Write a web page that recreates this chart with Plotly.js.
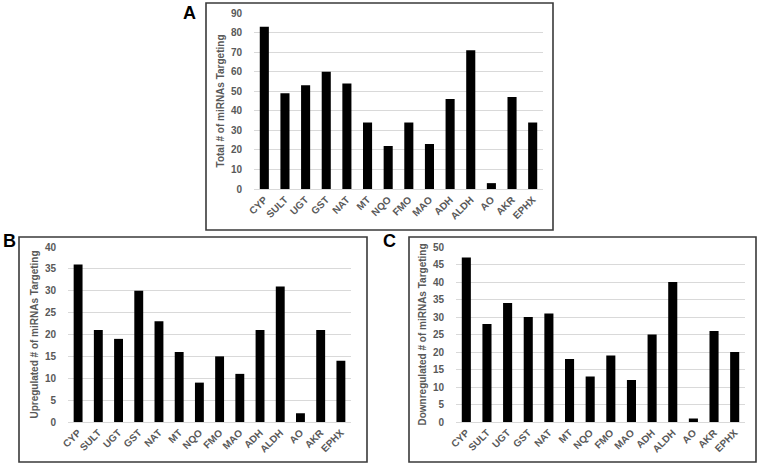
<!DOCTYPE html>
<html>
<head>
<meta charset="utf-8">
<script src="https://cdn.plot.ly/plotly-3.0.1.min.js"></script>
<style>html,body{margin:0;padding:0;background:#fff;}#chart{width:759px;height:466px;}</style>
</head>
<body>
<div id="chart"></div>
<script>
const categories = ["CYP","SULT","UGT","GST","NAT","MT","NQO","FMO","MAO","ADH","ALDH","AO","AKR","EPHX"];
const totalValues = [83,49,53,60,54,34,22,34,23,46,71,3,47,34];
const upValues = [36,21,19,30,23,16,9,15,11,21,31,2,21,14];
const downValues = [47,28,34,30,31,18,13,19,12,25,40,1,26,20];
const panelLabels = ["A","B","C"];
const yTitles = ["Total # of miRNAs Targeting","Upregulated # of miRNAs Targeting","Downregulated # of miRNAs Targeting"];

const W = 759, H = 466;
const px = (x) => x / W;
const py = (y) => 1 - y / H;

const tickFont = {family: "Liberation Sans, Arial, sans-serif", size: 10, color: "#595959", weight: "bold"};
const titleFont = {family: "Liberation Sans, Arial, sans-serif", size: 10, color: "#595959", weight: "bold"};

function bar(y, xa, ya) {
  return {type: "bar", x: categories, y: y, xaxis: xa, yaxis: ya,
    marker: {color: "#000000", line: {width: 0}}, hoverinfo: "x+y"};
}
function xAxis(d0, d1, anchor) {
  return {domain: [px(d0), px(d1)], anchor: anchor, type: "category",
    tickangle: -45, tickfont: tickFont, showgrid: false, showline: true,
    linecolor: "#d9d9d9", linewidth: 1, ticks: "", fixedrange: true};
}
function yAxis(d0, d1, anchor, range, dtick, title, standoff) {
  return {domain: [py(d1), py(d0)], anchor: anchor, range: range, dtick: dtick,
    tickfont: tickFont, showgrid: true, gridcolor: "#d9d9d9", gridwidth: 1,
    zeroline: false, showline: false, ticks: "outside", ticklen: 9,
    tickcolor: "rgba(0,0,0,0)",
    title: {text: title, font: titleFont, standoff: standoff}, fixedrange: true};
}

const data = [bar(totalValues, "x", "y"), bar(upValues, "x2", "y2"), bar(downValues, "x3", "y3")];

const boxLine = {color: "#3a3a3a", width: 1.6};
const lblFont = {family: "Liberation Sans, Arial, sans-serif", size: 18, color: "#000", weight: "bold"};
const layout = {
  width: W, height: H, margin: {l: 0, r: 0, t: 0, b: 0},
  paper_bgcolor: "#ffffff", plot_bgcolor: "rgba(0,0,0,0)",
  showlegend: false, bargap: 0.56,
  xaxis: xAxis(254, 543, "y"),
  yaxis: yAxis(13, 189, "x", [0, 90], 10, yTitles[0], 4),
  xaxis2: xAxis(68, 351, "y2"),
  yaxis2: yAxis(247, 422, "x2", [0, 40], 5, yTitles[1], 4),
  xaxis3: xAxis(456, 745, "y3"),
  yaxis3: yAxis(247, 422, "x3", [0, 50], 5, yTitles[2], 4),
  shapes: [
    {type: "rect", xref: "paper", yref: "paper", x0: px(206), x1: px(553), y0: py(230), y1: py(3), line: boxLine},
    {type: "rect", xref: "paper", yref: "paper", x0: px(19), x1: px(367), y0: py(462), y1: py(237), line: boxLine},
    {type: "rect", xref: "paper", yref: "paper", x0: px(409), x1: px(756), y0: py(462), y1: py(237), line: boxLine}
  ],
  annotations: [
    {text: panelLabels[0], xref: "paper", yref: "paper", x: px(189), y: py(13), xanchor: "center", yanchor: "middle", showarrow: false, font: lblFont},
    {text: panelLabels[1], xref: "paper", yref: "paper", x: px(9), y: py(241), xanchor: "center", yanchor: "middle", showarrow: false, font: lblFont},
    {text: panelLabels[2], xref: "paper", yref: "paper", x: px(389), y: py(241), xanchor: "center", yanchor: "middle", showarrow: false, font: lblFont}
  ]
};

Plotly.newPlot("chart", data, layout, {displayModeBar: false, staticPlot: true});
</script>
</body>
</html>
